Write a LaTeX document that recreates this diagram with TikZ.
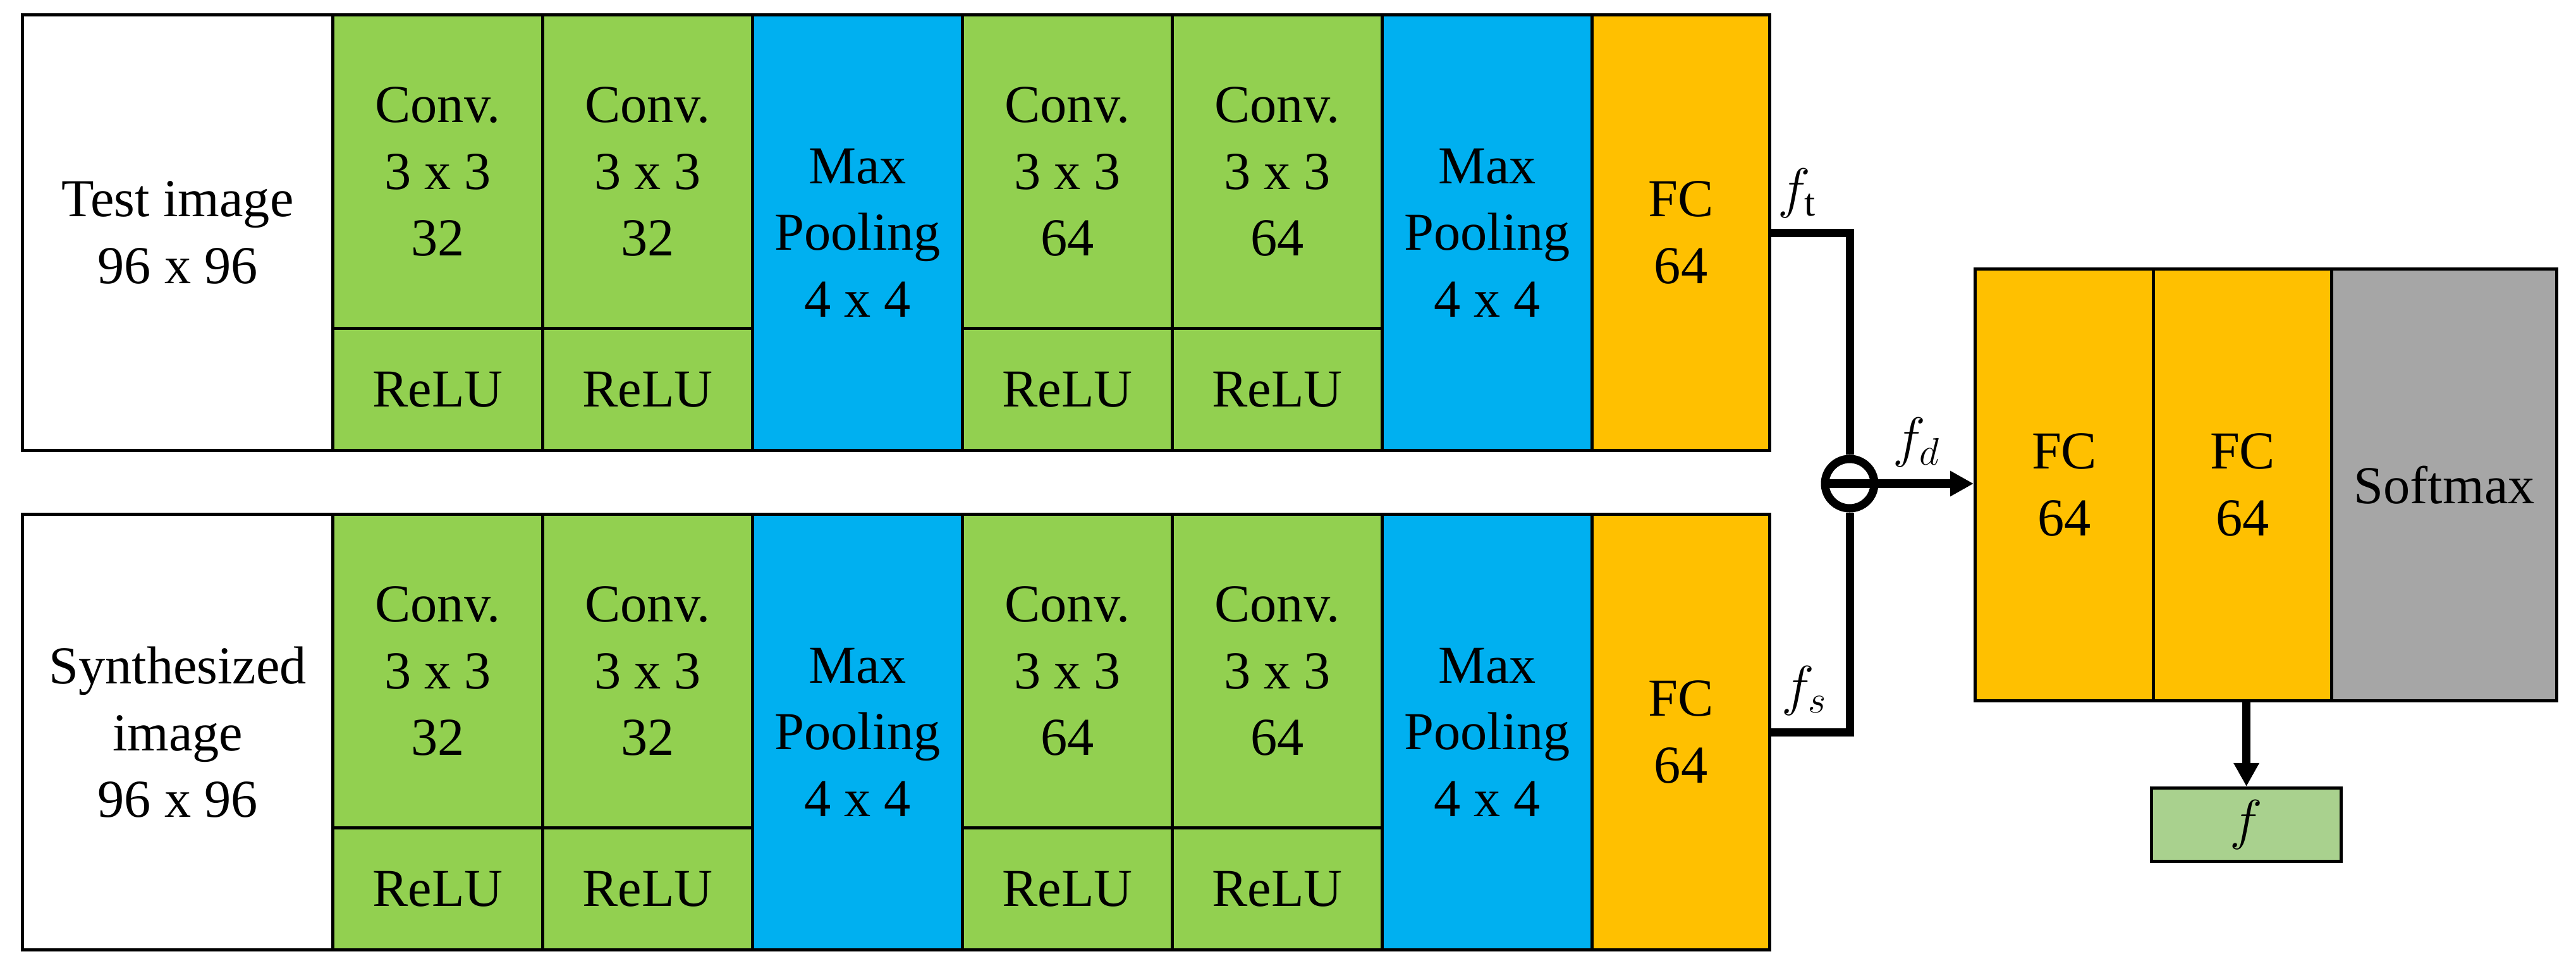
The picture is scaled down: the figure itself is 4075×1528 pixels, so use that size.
\documentclass[tikz,border=0pt]{standalone}
\usepackage{fontspec}
\setmainfont{Liberation Serif}
\usetikzlibrary{arrows.meta}
\definecolor{convgreen}{HTML}{92D050}
\definecolor{poolblue}{HTML}{00B0F0}
\definecolor{fcorange}{HTML}{FFC000}
\definecolor{softgray}{HTML}{A6A6A6}
\definecolor{outgreen}{HTML}{A9D18E}

\begin{document}
\begin{tikzpicture}[x=0.01cm,y=-0.01cm]
    \tikzstyle{blk}=[rectangle,draw,line width=0.05cm,inner sep=0pt,align=center,anchor=north west,font=\fontsize{24pt}{30pt}\selectfont]
    \tikzstyle{imgbox}=[blk,fill=white,minimum width=4.91cm,minimum height=6.89cm]
    \tikzstyle{conv}=[blk,fill=convgreen,minimum width=3.32cm,minimum height=4.96cm]
    \tikzstyle{relu}=[blk,fill=convgreen,minimum width=3.32cm,minimum height=1.93cm]
    \tikzstyle{pool}=[blk,fill=poolblue,minimum width=3.32cm,minimum height=6.89cm]
    \tikzstyle{fc}=[blk,fill=fcorange,minimum width=2.81cm,minimum height=6.89cm]
    \tikzstyle{headfc}=[blk,fill=fcorange,minimum width=2.82cm,minimum height=6.83cm]
    \tikzstyle{soft}=[blk,fill=softgray,minimum width=3.56cm,minimum height=6.83cm]
    \tikzstyle{outbox}=[blk,fill=outgreen,minimum width=3.0cm,minimum height=1.16cm]
    \tikzstyle{feat}=[line width=0.13cm]
    \tikzstyle{featarrow}=[feat,-{Triangle[length=0.37cm,width=0.38cm]}]
    \tikzstyle{flab}=[anchor=base west,inner sep=0pt,font=\fontsize{25pt}{30pt}\selectfont]
    \useasboundingbox (0,0) rectangle (4075,1528);
    % test image branch
    \node (timg)   at (33,21)    [imgbox] {Test image\\96 x 96};
    \node (tconv1) at (524,21)   [conv]   {Conv.\\3 x 3\\32};
    \node (trelu1) at (524,517)  [relu]   {ReLU};
    \node (tconv2) at (856,21)   [conv]   {Conv.\\3 x 3\\32};
    \node (trelu2) at (856,517)  [relu]   {ReLU};
    \node (tpool1) at (1188,21)  [pool]   {Max\\Pooling\\4 x 4};
    \node (tconv3) at (1520,21)  [conv]   {Conv.\\3 x 3\\64};
    \node (trelu3) at (1520,517) [relu]   {ReLU};
    \node (tconv4) at (1852,21)  [conv]   {Conv.\\3 x 3\\64};
    \node (trelu4) at (1852,517) [relu]   {ReLU};
    \node (tpool2) at (2184,21)  [pool]   {Max\\Pooling\\4 x 4};
    \node (tfc)    at (2516,21)  [fc]     {FC\\64};
    % synthesized image branch
    \node (simg)   at (33,811)    [imgbox] {Synthesized\\image\\96 x 96};
    \node (sconv1) at (524,811)   [conv]   {Conv.\\3 x 3\\32};
    \node (srelu1) at (524,1307)  [relu]   {ReLU};
    \node (sconv2) at (856,811)   [conv]   {Conv.\\3 x 3\\32};
    \node (srelu2) at (856,1307)  [relu]   {ReLU};
    \node (spool1) at (1188,811)  [pool]   {Max\\Pooling\\4 x 4};
    \node (sconv3) at (1520,811)  [conv]   {Conv.\\3 x 3\\64};
    \node (srelu3) at (1520,1307) [relu]   {ReLU};
    \node (sconv4) at (1852,811)  [conv]   {Conv.\\3 x 3\\64};
    \node (srelu4) at (1852,1307) [relu]   {ReLU};
    \node (spool2) at (2184,811)  [pool]   {Max\\Pooling\\4 x 4};
    \node (sfc)    at (2516,811)  [fc]     {FC\\64};
    % difference and head
    \node (diff) at (2926,765) [circle,draw,line width=0.13cm,minimum size=0.78cm,inner sep=0pt] {};
    \node (rfc1) at (3122,423) [headfc] {FC\\64};
    \node (rfc2) at (3404,423) [headfc] {FC\\64};
    \node (rsoft) at (3686,423) [soft]  {Softmax};
    \node (outf) at (3401,1244) [outbox,font=\fontsize{25pt}{30pt}\selectfont] {$f$};
    \draw [feat] (tfc.east) -- (tfc.east -| diff) -- (diff.north);
    \draw [feat] (sfc.east) -- (sfc.east -| diff) -- (diff.south);
    \draw [featarrow] (diff.west) -- (diff.west -| rfc1.west);
    \draw [featarrow] (outf.north |- rfc2.south) -- (outf.north);
    \node (ftlab) at (2812,328)  [flab] {$f_{\mathrm{t}}$};
    \node (fdlab) at (2994,722)  [flab] {$f_d$};
    \node (fslab) at (2818,1114) [flab] {$f_s$};
\end{tikzpicture}
\end{document}
